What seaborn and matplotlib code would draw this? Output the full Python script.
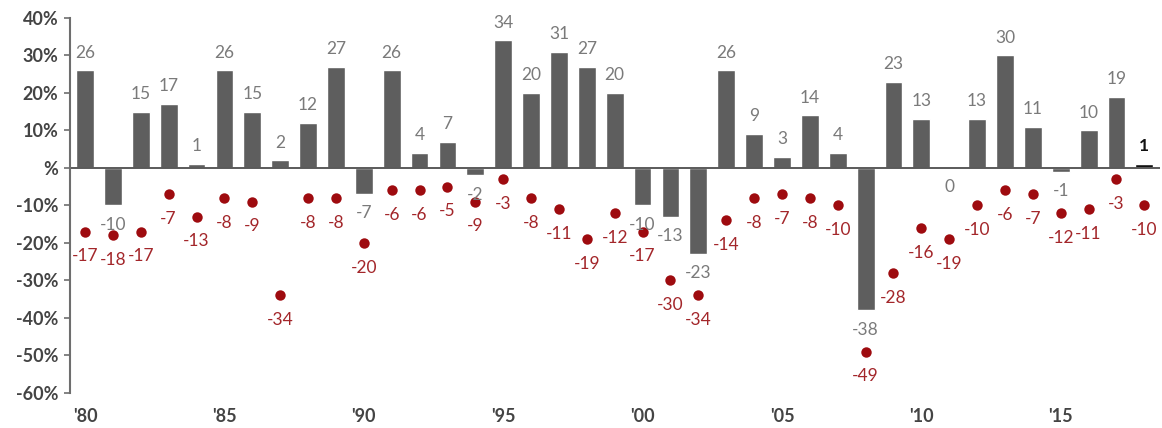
import matplotlib
matplotlib.use("Agg")
import matplotlib.pyplot as plt
import seaborn as sns
import pandas as pd

years = list(range(1980, 2019))
returns = [26, -10, 15, 17, 1, 26, 15, 2, 12, 27, -7, 26, 4, 7, -2, 34, 20, 31, 27, 20,
           -10, -13, -23, 26, 9, 3, 14, 4, -38, 23, 13, 0, 13, 30, 11, -1, 10, 19, 1]
declines = [-17, -18, -17, -7, -13, -8, -9, -34, -8, -8, -20, -6, -6, -5, -9, -3, -8, -11, -19, -12,
            -17, -30, -34, -14, -8, -7, -8, -10, -49, -28, -16, -19, -10, -6, -7, -12, -11, -3, -10]
y_ticks = [40, 30, 20, 10, 0, -10, -20, -30, -40, -50, -60]
y_tick_labels = ["40%", "30%", "20%", "10%", "%", "-10%", "-20%", "-30%", "-40%", "-50%", "-60%"]
x_tick_years = [1980, 1985, 1990, 1995, 2000, 2005, 2010, 2015]
x_tick_labels = ["'80", "'85", "'90", "'95", "'00", "'05", "'10", "'15"]

BAR = "#5e5e5e"
LAST = "#111111"
RED = "#9e0b0f"
LBL = "#7a7a7a"
RLBL = "#a3262a"
TICK = "#444444"

sns.set_theme(style="white")
plt.rcParams['font.family'] = ['Lato', 'DejaVu Sans']

df = pd.DataFrame({"year": [str(y) for y in years], "ret": returns, "dec": declines})
order = df["year"].tolist()

fig = plt.figure(figsize=(11.62, 4.28), dpi=100)
ax = fig.add_axes([0.060, 0.082, 0.938, 0.876])

palette = [BAR] * (len(years) - 1) + [LAST]
sns.barplot(data=df, x="year", y="ret", hue="year", order=order, hue_order=order,
            palette=palette, saturation=1, width=0.64, legend=False, ax=ax)
sns.stripplot(data=df, x="year", y="dec", order=order, jitter=False, color=RED,
              size=7.5, linewidth=0, ax=ax, zorder=3)

ax.axhline(0, color="#5a5a5a", lw=1.4, zorder=2)

for i, (r, d) in enumerate(zip(returns, declines)):
    last = i == len(years) - 1
    col = LAST if last else LBL
    if r > 0:
        ax.annotate(str(r), (i, r), xytext=(0, 7), textcoords="offset points",
                    ha="center", va="bottom", fontsize=12.5, color=col,
                    fontweight="bold" if last else "normal")
    else:
        ax.annotate(str(r), (i, r), xytext=(0, -8), textcoords="offset points",
                    ha="center", va="top", fontsize=12.5, color=col)
    ax.annotate(str(d), (i, d), xytext=(0, -12), textcoords="offset points",
                ha="center", va="top", fontsize=12.5, color=RLBL)

ax.set_ylim(-60, 40)
ax.set_xlim(-0.55, len(years) - 0.45)
ax.set_yticks(y_ticks)
ax.set_yticklabels(y_tick_labels, fontsize=13, fontweight="bold", color=TICK)
ax.set_xticks([years.index(y) for y in x_tick_years])
ax.set_xticklabels(x_tick_labels, fontsize=13, fontweight="bold", color=TICK)
ax.tick_params(axis="x", length=0, pad=11)
ax.tick_params(axis="y", length=4, width=1.2, color="#6e6e6e", direction="out", left=True, pad=4)
ax.set_xlabel("")
ax.set_ylabel("")
for s in ["top", "right", "bottom"]:
    ax.spines[s].set_visible(False)
ax.spines["left"].set_color("#6e6e6e")
ax.spines["left"].set_linewidth(1.5)

fig.savefig("out.png", dpi=100)
